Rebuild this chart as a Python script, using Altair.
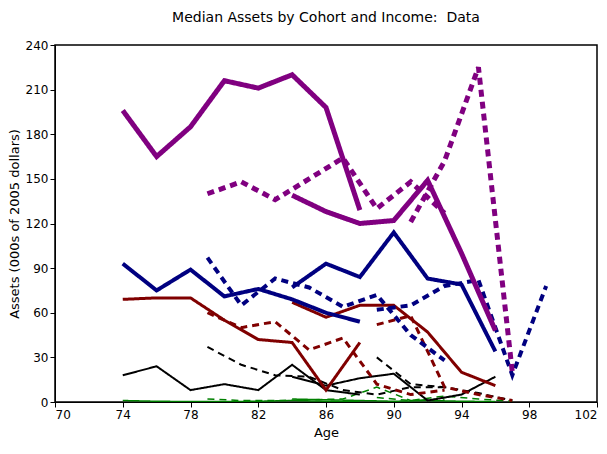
import pandas as pd
import altair as alt

# ages for the two solid and two dashed cohorts
ages_s1 = [74, 76, 78, 80, 82, 84, 86, 88]
ages_s2 = [84, 86, 88, 90, 92, 94, 96]
ages_d1 = [79, 81, 83, 85, 87, 89, 91, 93]
ages_d2 = [89, 91, 93, 95, 97, 99]

purple_s1 = [196, 165, 185, 216, 211, 220, 198, 129]
purple_s2 = [139, 128, 120, 122, 149, 100, 48]
purple_d1 = [140, 148, 136, 150, 164, 130, 148, 127]
purple_d2 = [None, 121, 162, 225, 20, None]

navy_s1 = [93, 75, 89, 71, 76, 69, 60, 54]
navy_s2 = [77, 93, 84, 114, 83, 79, 34]
navy_d1 = [97, 65, 83, 77, 64, 72, 45, 28]
navy_d2 = [62, 65, 78, 82, 18, 78]

red_s1 = [69, 70, 70, 55, 42, 40, 8, 40]
red_s2 = [67, 57, 65, 65, 47, 20, 11]
red_d1 = [60, 50, 54, 35, 43, 12, 5, 8]
red_d2 = [52, 58, 10, 5, 1, None]

black_s1 = [18, 24, 8, 12, 8, 25, 8, 5]
black_s2 = [17, 11, 16, 19, 1, 5, 17]
black_d1 = [37, 25, 18, 17, 8, 5, 10, 10]
black_d2 = [30, 12, 10, 6, 1, None]

green_s1 = [1, 0.5, 0.3, 0.3, 0.5, 1, 0.5, 0.3]
green_s2 = [2, 1.5, 1, 0.5, 1, 0.5, 0.3]
green_d1 = [2, 1, 1, 1.5, 2, 10, 1, 2]
green_d2 = [3, 1, 4, 2, 0.5, None]

styles = {
    "purple": ("#800080", 5),
    "navy": ("#000080", 4),
    "red": ("#800000", 3),
    "black": ("#000000", 2),
    "green": ("#008000", 1.5),
}
groups = {
    "purple": [purple_s1, purple_s2, purple_d1, purple_d2],
    "navy": [navy_s1, navy_s2, navy_d1, navy_d2],
    "red": [red_s1, red_s2, red_d1, red_d2],
    "black": [black_s1, black_s2, black_d1, black_d2],
    "green": [green_s1, green_s2, green_d1, green_d2],
}
age_sets = [ages_s1, ages_s2, ages_d1, ages_d2]

xs = alt.Scale(domain=[70, 102], nice=False)
ys = alt.Scale(domain=[0, 240], nice=False)
xa = alt.Axis(values=list(range(70, 103, 4)), title="Age", grid=False, tickColor="black",
              domainColor="black", labelColor="black", titleFontWeight="normal", titlePadding=6)
ya = alt.Axis(values=list(range(0, 241, 30)), title="Assets (000s of 2005 dollars)", grid=False,
              tickColor="black", domainColor="black", labelColor="black", titleFontWeight="normal",
              titlePadding=4)

layers = []
for name in ["green", "black", "red", "navy", "purple"]:
    color, width = styles[name]
    for i, (ages, vals) in enumerate(zip(age_sets, groups[name])):
        df = pd.DataFrame({"age": ages, "assets": vals}).dropna()
        dash = [1, 0] if i < 2 else [7, 5]
        layers.append(
            alt.Chart(df).mark_line(color=color, strokeWidth=width, strokeDash=dash, clip=True).encode(
                x=alt.X("age:Q", scale=xs, axis=xa),
                y=alt.Y("assets:Q", scale=ys, axis=ya),
            )
        )

chart = alt.layer(*layers).properties(
    width=542, height=357,
    title=alt.TitleParams("Median Assets by Cohort and Income:\u00a0\u00a0Data", fontSize=14,
                          fontWeight="normal", font="DejaVu Sans", offset=14),
    autosize="none",
    padding={"left": 47, "top": 37, "right": 2, "bottom": 45},
).configure_view(stroke="black", strokeWidth=1.5).configure_axis(
    labelFont="DejaVu Sans", titleFont="DejaVu Sans", labelFontSize=12, titleFontSize=13
)

chart.save("out.html", embed_options={"renderer": "svg", "actions": False})
